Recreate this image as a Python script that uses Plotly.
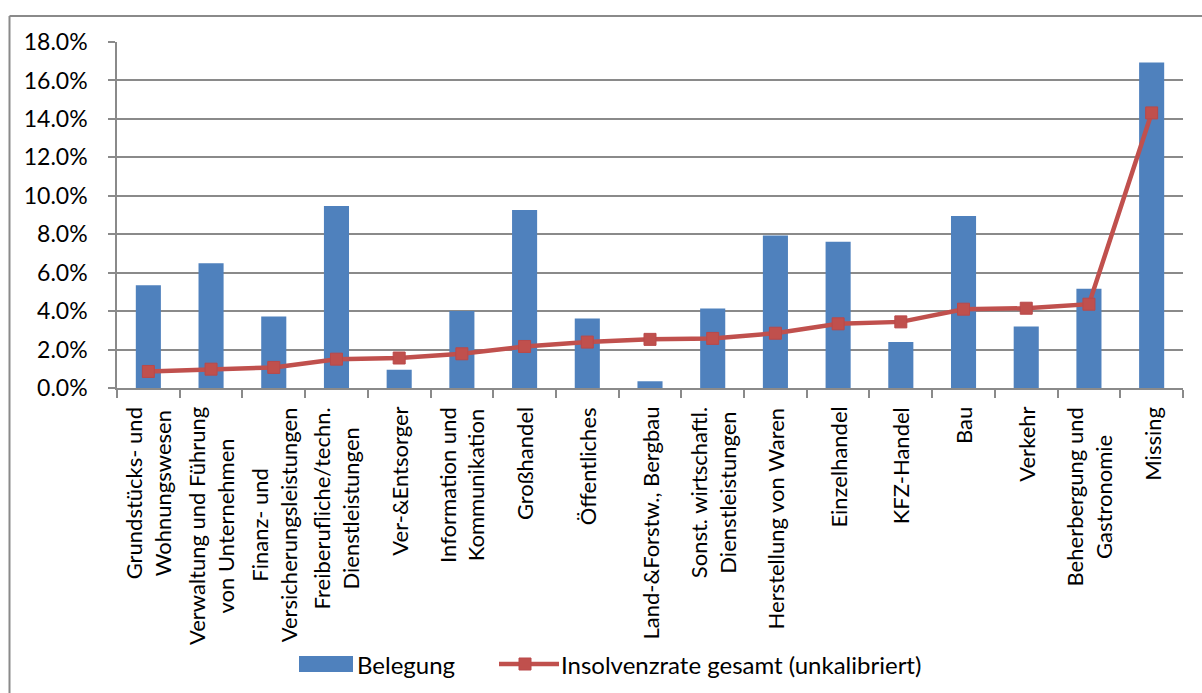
import plotly.graph_objects as go

# Wirtschaftszweige (Zeilenumbruch mit <br>)
branchen = [
    "Grundstücks- und<br>Wohnungswesen",
    "Verwaltung und Führung<br>von Unternehmen",
    "Finanz- und<br>Versicherungsleistungen",
    "Freiberufliche/techn.<br>Dienstleistungen",
    "Ver-&Entsorger",
    "Information und<br>Kommunikation",
    "Großhandel",
    "Öffentliches",
    "Land-&Forstw., Bergbau",
    "Sonst. wirtschaftl.<br>Dienstleistungen",
    "Herstellung von Waren",
    "Einzelhandel",
    "KFZ-Handel",
    "Bau",
    "Verkehr",
    "Beherbergung und<br>Gastronomie",
    "Missing",
]

# Anteil der Belegung je Branche (in %)
belegung = [5.35, 6.49, 3.72, 9.47, 0.95, 4.01, 9.26, 3.62, 0.35,
            4.14, 7.93, 7.61, 2.39, 8.95, 3.20, 5.16, 16.93]

# Insolvenzrate gesamt, unkalibriert (in %)
insolvenzrate = [0.86, 0.98, 1.07, 1.50, 1.56, 1.78, 2.16, 2.39, 2.53,
                 2.58, 2.85, 3.34, 3.44, 4.10, 4.15, 4.36, 14.31]

y_ticks = [0, 2, 4, 6, 8, 10, 12, 14, 16, 18]
y_tick_labels = ["0.0%", "2.0%", "4.0%", "6.0%", "8.0%", "10.0%",
                 "12.0%", "14.0%", "16.0%", "18.0%"]

name_bar = "Belegung"
name_line = "Insolvenzrate gesamt (unkalibriert)"

BLUE = "#4F81BD"
RED = "#C0504D"
GRID = "#8A8A8A"
FONT = "Lato"

W, H = 1202, 693
M_L, M_R, M_T, M_B = 117, 19, 42, 305
PW = W - M_L - M_R
PH = H - M_T - M_B


def px_x(p):
    return (p - M_L) / PW


def px_y(p):
    return (H - M_B - p) / PH


fig = go.Figure()
fig.add_trace(go.Bar(
    x=branchen, y=belegung, name=name_bar,
    marker=dict(color=BLUE, line=dict(width=0)),
))
fig.add_trace(go.Scatter(
    x=branchen, y=insolvenzrate, name=name_line, mode="lines+markers",
    line=dict(color=RED, width=4.5),
    marker=dict(symbol="square", size=12, color=RED,
                line=dict(color="#B9494A", width=1)),
))

annotations = []
for b in branchen:
    annotations.append(dict(
        x=b, xref="x", y=0, yref="paper", text=b, textangle=-90,
        showarrow=False, xanchor="center", yanchor="top", align="center",
        yshift=-17, font=dict(family=FONT, size=22, color="black"),
    ))

# Legende
shapes = [
    dict(type="rect", xref="paper", yref="paper",
         x0=px_x(299), x1=px_x(353), y0=px_y(672), y1=px_y(656),
         fillcolor=BLUE, line=dict(width=0)),
    dict(type="line", xref="paper", yref="paper",
         x0=px_x(499), x1=px_x(559), y0=px_y(664), y1=px_y(664),
         line=dict(color=RED, width=4.5)),
    dict(type="rect", xref="paper", yref="paper",
         x0=px_x(519), x1=px_x(531), y0=px_y(670), y1=px_y(658),
         fillcolor=RED, line=dict(color="#B9494A", width=1)),
    # Rahmen des Diagrammbereichs
    dict(type="line", xref="paper", yref="paper",
         x0=px_x(9.5), x1=px_x(9.5), y0=px_y(16), y1=px_y(700),
         line=dict(color=GRID, width=2)),
    dict(type="line", xref="paper", yref="paper",
         x0=px_x(9.5), x1=px_x(1210), y0=px_y(16), y1=px_y(16),
         line=dict(color=GRID, width=2)),
]
annotations += [
    dict(x=px_x(355), y=px_y(664), xref="paper", yref="paper", text=name_bar,
         showarrow=False, xanchor="left", yanchor="middle",
         font=dict(family=FONT, size=24, color="black")),
    dict(x=px_x(559), y=px_y(664), xref="paper", yref="paper", text=name_line,
         showarrow=False, xanchor="left", yanchor="middle",
         font=dict(family=FONT, size=24, color="black")),
]

fig.update_layout(
    width=W, height=H,
    margin=dict(l=M_L, r=M_R, t=M_T, b=M_B),
    paper_bgcolor="white", plot_bgcolor="white",
    showlegend=False, bargap=0.6,
    font=dict(family=FONT, size=22, color="black"),
    annotations=annotations, shapes=shapes,
)
fig.update_xaxes(
    type="category", range=[-0.5, len(branchen) - 0.5], autorange=False,
    showticklabels=False, showgrid=False,
    showline=True, linecolor=GRID, linewidth=1.5,
    ticks="outside", tickson="boundaries", ticklen=8,
    tickcolor=GRID, tickwidth=1.5,
)
fig.update_yaxes(
    range=[0, 18], autorange=False, tickvals=y_ticks, ticktext=y_tick_labels,
    showgrid=True, gridcolor=GRID, gridwidth=1.5,
    showline=True, linecolor=GRID, linewidth=1.5, zeroline=False,
    ticks="outside", ticklen=7, tickcolor=GRID, tickwidth=1.5,
    ticklabelstandoff=16,
    tickfont=dict(family=FONT, size=23, color="black"),
)

fig.write_html("out.html")
